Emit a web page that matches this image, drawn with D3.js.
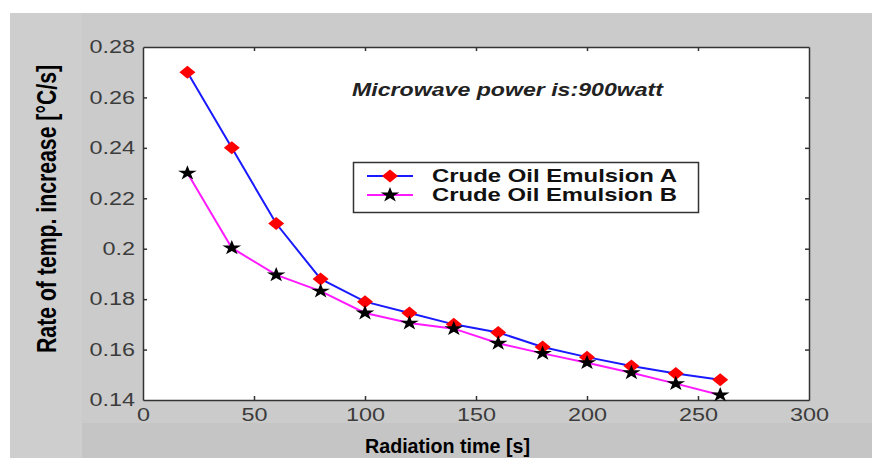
<!DOCTYPE html>
<html>
<head>
<meta charset="utf-8">
<script src="https://cdn.jsdelivr.net/npm/d3@7"></script>
<style>
  body { margin: 0; background: #fff; }
  svg { display: block; font-family: Arial, "Liberation Sans", sans-serif; }
</style>
</head>
<body>
<div id="chart"></div>
<script>

var times = [20, 40, 60, 80, 100, 120, 140, 160, 180, 200, 220, 240, 260]
var emulsionA = [0.270, 0.240, 0.210, 0.188, 0.179, 0.1745, 0.170, 0.1668, 0.161, 0.157, 0.1535, 0.1505, 0.148]
var emulsionB = [0.230, 0.2003, 0.1896, 0.1832, 0.1745, 0.1705, 0.1683, 0.1625, 0.1585, 0.1548, 0.1508, 0.1465, 0.142]
var xTicks = [0, 50, 100, 150, 200, 250, 300]
var yTicks = [0.14, 0.16, 0.18, 0.2, 0.22, 0.24, 0.26, 0.28]
var seriesNames = ["Crude Oil Emulsion A", "Crude Oil Emulsion B"]

var width = 872, height = 458
var margin = {left: 143, top: 47, right: 63, bottom: 58}
var stretch = 1.3   // picture is wider than the original figure

var svg = d3.select("#chart").append("svg")
    .attr("width", width)
    .attr("height", height)

// grey figure background, a few slightly different shades
svg.append("rect").attr("x", 10).attr("y", 13).attr("width", width - 10).attr("height", height - 13).attr("fill", "#cbcbcb")
svg.append("rect").attr("x", 10).attr("y", 13).attr("width", 72).attr("height", height - 13).attr("fill", "#cecece")
svg.append("rect").attr("x", 82).attr("y", 423).attr("width", width - 82).attr("height", height - 423).attr("fill", "#c5c5c5")

var x = d3.scaleLinear().domain([0, 300]).range([margin.left, width - margin.right])
var y = d3.scaleLinear().domain([0.14, 0.28]).range([height - margin.bottom, margin.top])

svg.append("rect")
    .attr("x", x(0)).attr("y", y(0.28))
    .attr("width", x(300) - x(0)).attr("height", y(0.14) - y(0.28))
    .attr("fill", "#fff")

function stretchText(sel, k) {
  sel.each(function () {
    var len = this.getComputedTextLength()
    d3.select(this).attr("textLength", len * k).attr("lengthAdjust", "spacingAndGlyphs")
  })
}

function styleAxis(g, showText) {
  g.select(".domain").attr("stroke", "#333").attr("stroke-width", 1.5)
  g.selectAll(".tick line").attr("stroke", "#333").attr("stroke-width", 1.5)
  g.selectAll(".tick text")
    .attr("fill", "#3c3c3c")
    .style("font-size", "18px")
    .style("display", showText ? null : "none")
}

var fmtY = d => d3.format("")(+d.toFixed(2))

var gx = svg.append("g")
    .attr("transform", "translate(0," + y(0.14) + ")")
    .call(d3.axisBottom(x).tickValues(xTicks).tickSizeInner(-4).tickSizeOuter(0).tickPadding(8))
styleAxis(gx, true)
gx.selectAll(".tick line").filter(d => d == 0 || d == 300).remove()
stretchText(gx.selectAll(".tick text"), stretch)

var gxTop = svg.append("g")
    .attr("transform", "translate(0," + y(0.28) + ")")
    .call(d3.axisTop(x).tickValues(xTicks).tickSizeInner(-4).tickSizeOuter(0))
styleAxis(gxTop, false)
gxTop.selectAll(".tick line").filter(d => d == 0 || d == 300).remove()

var gy = svg.append("g")
    .attr("transform", "translate(" + x(0) + ",0)")
    .call(d3.axisLeft(y).tickValues(yTicks).tickFormat(fmtY).tickSizeInner(-4).tickSizeOuter(0).tickPadding(8))
styleAxis(gy, true)
gy.selectAll(".tick line").filter(d => d == 0.14 || d == 0.28).remove()
stretchText(gy.selectAll(".tick text"), stretch)

var gyRight = svg.append("g")
    .attr("transform", "translate(" + x(300) + ",0)")
    .call(d3.axisRight(y).tickValues(yTicks).tickSizeInner(-4).tickSizeOuter(0))
styleAxis(gyRight, false)
gyRight.selectAll(".tick line").filter(d => d == 0.14 || d == 0.28).remove()

// series
var line = d3.line().x(d => x(d[0])).y(d => y(d[1]))
var dataA = times.map((t, i) => [t, emulsionA[i]])
var dataB = times.map((t, i) => [t, emulsionB[i]])

svg.append("path").datum(dataA).attr("d", line)
    .attr("fill", "none").attr("stroke", "#1a1aff").attr("stroke-width", 2)
svg.append("path").datum(dataB).attr("d", line)
    .attr("fill", "none").attr("stroke", "#ff1aff").attr("stroke-width", 2)

var diamond = "M0,-6.5L8,0L0,6.5L-8,0Z"
var star = d3.symbol().type(d3.symbolStar).size(70)()

svg.append("g").selectAll("path")
    .data(dataA)
    .join("path")
      .attr("transform", d => "translate(" + x(d[0]) + "," + y(d[1]) + ")")
      .attr("d", diamond)
      .attr("fill", "#ff0000")

svg.append("g").selectAll("path")
    .data(dataB)
    .join("path")
      .attr("transform", d => "translate(" + x(d[0]) + "," + y(d[1]) + ") scale(1.25,1)")
      .attr("d", star)
      .attr("fill", "#000")

// annotation
svg.append("text")
    .attr("x", 352).attr("y", 96)
    .attr("textLength", 311).attr("lengthAdjust", "spacingAndGlyphs")
    .style("font-size", "18px").style("font-weight", "bold").style("font-style", "italic")
    .attr("fill", "#222")
    .text("Microwave power is:900watt")

// legend
var legend = svg.append("g")
legend.append("rect")
    .attr("x", 353.5).attr("y", 162.5).attr("width", 345).attr("height", 50)
    .attr("fill", "#fff").attr("stroke", "#333").attr("stroke-width", 1.5)

var legendRows = [
  {name: seriesNames[0], color: "#1a1aff", marker: "A", yy: 182},
  {name: seriesNames[1], color: "#ff1aff", marker: "B", yy: 201}
]
legendRows.forEach(function (r) {
  var cy = r.yy - 6
  legend.append("line")
      .attr("x1", 367).attr("x2", 413).attr("y1", cy).attr("y2", cy)
      .attr("stroke", r.color).attr("stroke-width", 2)
  legend.append("path")
      .attr("transform", "translate(390," + cy + ")" + (r.marker == "B" ? " scale(1.25,1)" : ""))
      .attr("d", r.marker == "A" ? diamond : star)
      .attr("fill", r.marker == "A" ? "#ff0000" : "#000")
  legend.append("text")
      .attr("x", 432).attr("y", r.yy)
      .attr("textLength", 245).attr("lengthAdjust", "spacingAndGlyphs")
      .style("font-size", "18px").style("font-weight", "bold")
      .attr("fill", "#111")
      .text(r.name)
})

// axis titles
svg.append("text")
    .attr("x", 365).attr("y", 453)
    .attr("textLength", 165).attr("lengthAdjust", "spacingAndGlyphs")
    .style("font-size", "21px").style("font-weight", "bold")
    .attr("fill", "#000")
    .text("Radiation time [s]")

svg.append("text")
    .attr("transform", "translate(56,209) scale(1.3,1) rotate(-90)")
    .attr("text-anchor", "middle")
    .attr("textLength", 288).attr("lengthAdjust", "spacingAndGlyphs")
    .style("font-size", "21px").style("font-weight", "bold")
    .attr("fill", "#000")
    .text("Rate of temp. increase [\u00b0C/s]")

</script>
</body>
</html>
